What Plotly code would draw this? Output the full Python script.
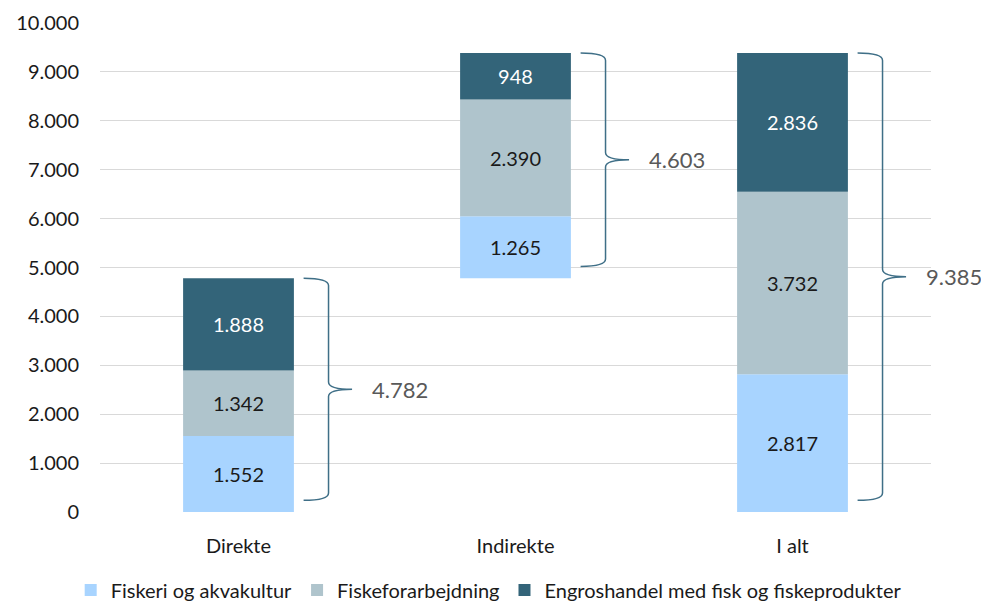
import plotly.graph_objects as go

categories = ["Direkte", "Indirekte", "I alt"]
series_names = ["Fiskeri og akvakultur", "Fiskeforarbejdning", "Engroshandel med fisk og fiskeprodukter"]
fiskeri = [1552, 1265, 2817]
forarbejdning = [1342, 2390, 3732]
engros = [1888, 948, 2836]
totals = [4782, 4603, 9385]
y_ticks = [0, 1000, 2000, 3000, 4000, 5000, 6000, 7000, 8000, 9000, 10000]

colors = ["#A8D4FF", "#AFC4CC", "#336479"]
text_colors = ["#1a1a1a", "#1a1a1a", "#ffffff"]
FONT = "Lato, Carlito, Calibri, sans-serif"

xs = list(range(len(categories)))
# waterfall offset: Indirekte starts on top of Direkte
offsets = [0, totals[0], 0]

fig = go.Figure()
series = [fiskeri, forarbejdning, engros]
cum = list(offsets)
for name, vals, col, tcol in zip(series_names, series, colors, text_colors):
    fig.add_trace(go.Bar(
        x=xs, y=vals, base=list(cum), name=name,
        marker=dict(color=col, line=dict(width=0)),
        width=0.4,
        text=vals, texttemplate="%{y:,.0f}", textposition="inside",
        insidetextanchor="middle",
        textfont=dict(color=tcol, size=20, family=FONT),
        hoverinfo="skip",
    ))
    cum = [c + v for c, v in zip(cum, vals)]

# braces
brace_col = "#3F6F87"
x0_off, xv_off, xt_off = 0.235, 0.325, 0.41
for i in xs:
    top = offsets[i] + totals[i]
    bot = offsets[i] + 240
    mid = (top + bot) / 2
    x0 = i + x0_off
    xv = i + xv_off
    xt = i + xt_off
    dy = 150
    path = (f"M {x0},{top} Q {xv},{top} {xv},{top-dy} "
            f"L {xv},{mid+dy} Q {xv},{mid} {xt},{mid} "
            f"Q {xv},{mid} {xv},{mid-dy} "
            f"L {xv},{bot+dy} Q {xv},{bot} {x0},{bot}")
    fig.add_shape(type="path", path=path, xref="x", yref="y",
                  line=dict(color=brace_col, width=1.5))
    fig.add_annotation(x=i + 0.475, y=mid, xref="x", yref="y",
                       text=f"{totals[i]:,}".replace(",", "."),
                       showarrow=False, xanchor="left", yanchor="middle",
                       font=dict(size=22, color="#595959", family=FONT))

# page has an 8px body margin, so the figure is drawn at (8, 8)
fig.update_layout(
    width=981, height=595,
    margin=dict(l=92, r=58, t=15, b=91, autoexpand=False),
    plot_bgcolor="white", paper_bgcolor="white",
    barmode="overlay",
    separators=",.",
    font=dict(family=FONT, size=20, color="#1a1a1a"),
    showlegend=True,
    legend=dict(orientation="h", xref="container", x=0.49, xanchor="center",
                yref="container", y=0.022, yanchor="middle",
                font=dict(size=20, color="#1a1a1a", family=FONT),
                itemwidth=30, tracegroupgap=0),
    uniformtext=dict(mode=False),
)
fig.update_xaxes(range=[-0.5, 2.5], tickvals=xs, ticktext=categories,
                 showgrid=False, zeroline=False, showline=False, ticks="",
                 automargin=False, ticklabelstandoff=20,
                 tickfont=dict(size=20, family=FONT, color="#1a1a1a"))
fig.update_yaxes(range=[0, 10000], tickvals=y_ticks, tickformat=",.0f",
                 showgrid=True, gridcolor="#D9D9D9", gridwidth=1.3,
                 zeroline=False, showline=False, ticks="", ticklen=0,
                 automargin=False, ticklabelstandoff=20,
                 tickfont=dict(size=20, family=FONT, color="#1a1a1a"))

fig.write_html("out.html")
